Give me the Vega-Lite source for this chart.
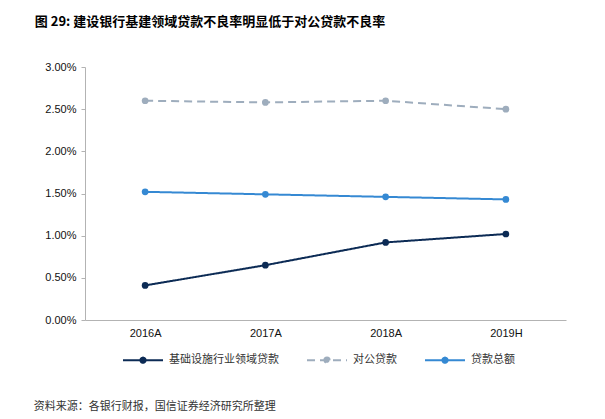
{
  "$schema": "https://vega.github.io/schema/vega-lite/v6.json",
  "background": "white",
  "padding": {"left": 33, "right": 10, "top": 16, "bottom": 4},
  "title": {
    "text": "资料来源：各银行财报，国信证券经济研究所整理",
    "orient": "bottom",
    "anchor": "start",
    "frame": "bounds",
    "font": "Noto Sans CJK SC",
    "fontSize": 11,
    "fontWeight": "normal",
    "color": "#333333",
    "offset": 34,
    "dx": -1
  },
  "vconcat": [
    {
      "width": 481,
      "height": 253,
      "title": {
        "text": "图 29: 建设银行基建领域贷款不良率明显低于对公贷款不良率",
        "anchor": "start",
        "frame": "bounds",
        "font": "Noto Sans CJK SC",
        "fontSize": 13,
        "fontWeight": "bold",
        "color": "#000000",
        "offset": 32,
        "dx": -10
      },
      "data": {
        "values": [
          {"year": "2016A", "series": "基础设施行业领域贷款", "value": 0.0041},
          {"year": "2017A", "series": "基础设施行业领域贷款", "value": 0.0065},
          {"year": "2018A", "series": "基础设施行业领域贷款", "value": 0.0092},
          {"year": "2019H", "series": "基础设施行业领域贷款", "value": 0.0102},
          {"year": "2016A", "series": "对公贷款", "value": 0.0260},
          {"year": "2017A", "series": "对公贷款", "value": 0.0258},
          {"year": "2018A", "series": "对公贷款", "value": 0.0260},
          {"year": "2019H", "series": "对公贷款", "value": 0.0250},
          {"year": "2016A", "series": "贷款总额", "value": 0.0152},
          {"year": "2017A", "series": "贷款总额", "value": 0.0149},
          {"year": "2018A", "series": "贷款总额", "value": 0.0146},
          {"year": "2019H", "series": "贷款总额", "value": 0.0143}
        ]
      },
      "encoding": {
        "x": {
          "field": "year",
          "type": "ordinal",
          "scale": {"type": "point", "padding": 0.5},
          "axis": {
            "title": null,
            "labelAngle": 0,
            "ticks": false,
            "labelPadding": 7,
            "domainColor": "#b3b3b3",
            "labelFont": "Liberation Sans",
            "labelFontSize": 11,
            "labelColor": "#111111"
          }
        },
        "y": {
          "field": "value",
          "type": "quantitative",
          "scale": {"domain": [0, 0.03], "nice": false},
          "axis": {
            "title": null,
            "values": [0, 0.005, 0.01, 0.015, 0.02, 0.025, 0.03],
            "format": ".2%",
            "grid": false,
            "tickSize": 4,
            "tickColor": "#b3b3b3",
            "domainColor": "#b3b3b3",
            "labelPadding": 5,
            "labelFont": "Liberation Sans",
            "labelFontSize": 11,
            "labelColor": "#111111"
          }
        },
        "color": {
          "field": "series",
          "type": "nominal",
          "scale": {
            "domain": ["基础设施行业领域贷款", "对公贷款", "贷款总额"],
            "range": ["#0c2b55", "#9eadbd", "#3589d3"]
          }
        }
      },
      "layer": [
        {
          "mark": {"type": "line", "strokeWidth": 2},
          "encoding": {
            "strokeDash": {
              "field": "series",
              "type": "nominal",
              "scale": {
                "domain": ["基础设施行业领域贷款", "对公贷款", "贷款总额"],
                "range": [[1, 0], [8, 5], [1, 0]]
              }
            }
          }
        },
        {
          "mark": {"type": "point", "filled": true, "size": 45, "opacity": 1}
        }
      ]
    }
  ],
  "config": {
    "view": {"stroke": null},
    "legend": {
      "orient": "none",
      "legendX": 37,
      "legendY": 272,
      "direction": "horizontal",
      "title": null,
      "symbolType": "M-1,0H1M-0.13,0A0.13,0.13,0,1,1,0.13,0A0.13,0.13,0,1,1,-0.13,0Z",
      "symbolSize": 1600,
      "symbolStrokeWidth": 2,
      "labelFont": "Noto Sans CJK SC",
      "labelFontSize": 11,
      "labelColor": "#333333",
      "columnPadding": 24,
      "labelOffset": 5
    }
  }
}
